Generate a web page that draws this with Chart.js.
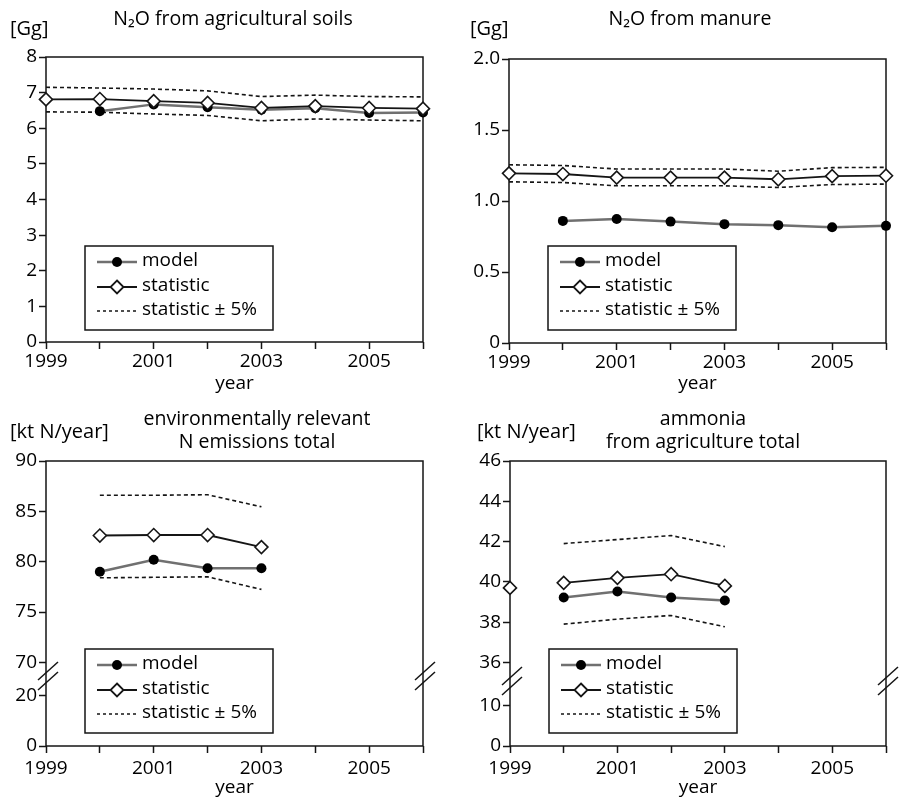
<!DOCTYPE html>
<html>
<head>
<meta charset="utf-8">
<script src="https://cdn.jsdelivr.net/npm/chart.js@4.4.0/dist/chart.umd.min.js"></script>
<style>
  body { margin: 0; background: #fff; }
  #wrap { position: relative; width: 903px; height: 800px; }
  canvas { position: absolute; }
</style>
</head>
<body>
<div id="wrap">
  <canvas id="c1" width="450" height="400" style="left:0;top:0"></canvas>
  <canvas id="c2" width="453" height="400" style="left:450px;top:0"></canvas>
  <canvas id="c3" width="450" height="400" style="left:0;top:400px"></canvas>
  <canvas id="c4" width="453" height="400" style="left:450px;top:400px"></canvas>
</div>
<script>
var years = [1999, 2000, 2001, 2002, 2003, 2004, 2005, 2006];
var yearLabels = ["1999", "", "2001", "", "2003", "", "2005", ""];

// N2O from agricultural soils [Gg]
var soilsModel = [null, 6.48, 6.67, 6.59, 6.52, 6.56, 6.43, 6.44];
var soilsStat = [6.81, 6.82, 6.76, 6.71, 6.57, 6.62, 6.57, 6.55];
var soilsUpper = [7.15, 7.13, 7.1, 7.05, 6.89, 6.93, 6.89, 6.88];
var soilsLower = [6.46, 6.45, 6.4, 6.36, 6.21, 6.26, 6.23, 6.21];
var soilsTicks = [0, 1, 2, 3, 4, 5, 6, 7, 8];
var soilsTickLabels = ["0", "1", "2", "3", "4", "5", "6", "7", "8"];

// N2O from manure [Gg]
var manureModel = [null, 0.86, 0.873, 0.855, 0.837, 0.83, 0.815, 0.825];
var manureStat = [1.195, 1.19, 1.165, 1.165, 1.165, 1.153, 1.175, 1.178];
var manureUpper = [1.255, 1.25, 1.225, 1.225, 1.225, 1.21, 1.235, 1.237];
var manureLower = [1.135, 1.13, 1.107, 1.107, 1.107, 1.095, 1.116, 1.119];
var manureTicks = [0, 0.5, 1, 1.5, 2];
var manureTickLabels = ["0", "0.5", "1.0", "1.5", "2.0"];

// environmentally relevant N emissions total [kt N/year]
var envModel = [null, 79.0, 80.2, 79.35, 79.35, null, null, null];
var envStat = [null, 82.6, 82.65, 82.65, 81.45, null, null, null];
var envUpper = [null, 86.6, 86.6, 86.65, 85.45, null, null, null];
var envLower = [null, 78.4, 78.45, 78.5, 77.25, null, null, null];
var envTicks = [0, 20, 70, 75, 80, 85, 90];
var envTickLabels = ["0", "20", "70", "75", "80", "85", "90"];

// ammonia from agriculture total [kt N/year]
var ammModel = [null, 39.22, 39.52, 39.22, 39.07, null, null, null];
var ammStat = [39.7, 39.95, 40.2, 40.38, 39.8, null, null, null];
var ammUpper = [null, 41.9, 42.1, 42.3, 41.75, null, null, null];
var ammLower = [null, 37.9, 38.15, 38.33, 37.77, null, null, null];
var ammTicks = [0, 10, 36, 38, 40, 42, 44, 46];
var ammTickLabels = ["0", "10", "36", "38", "40", "42", "44", "46"];

var FONT = "'Open Sans', sans-serif";
var MODEL_GREY = "#707070";
var INK = "#151515";

// broken y axis: lower part squeezed, upper part stretched
function mapper(b) {
  if (!b) return function (v) { return v; };
  return function (v) {
    if (v <= b.lowTop) return v / b.lowTop * b.lowSize;
    return b.lowSize + b.gap + (v - b.highBase) * b.highUnit;
  };
}

function points(vals, map) {
  return years.map(function (y, i) {
    var v = vals[i];
    return { x: y, y: (v == null) ? null : map(v) };
  });
}

function drawLegendSymbol(ctx, kind, x, y) {
  ctx.save();
  if (kind === "model") {
    ctx.strokeStyle = MODEL_GREY; ctx.lineWidth = 2.5;
    ctx.beginPath(); ctx.moveTo(x, y); ctx.lineTo(x + 40, y); ctx.stroke();
    ctx.fillStyle = "#000";
    ctx.beginPath(); ctx.arc(x + 20, y, 5, 0, Math.PI * 2); ctx.fill();
  } else if (kind === "stat") {
    ctx.strokeStyle = INK; ctx.lineWidth = 1.8;
    ctx.beginPath(); ctx.moveTo(x, y); ctx.lineTo(x + 40, y); ctx.stroke();
    ctx.fillStyle = "#fff";
    ctx.beginPath();
    ctx.moveTo(x + 20, y - 6.5); ctx.lineTo(x + 26.5, y); ctx.lineTo(x + 20, y + 6.5); ctx.lineTo(x + 13.5, y);
    ctx.closePath(); ctx.fill(); ctx.stroke();
  } else {
    ctx.strokeStyle = INK; ctx.lineWidth = 1.6; ctx.setLineDash([3, 3]);
    ctx.beginPath(); ctx.moveTo(x, y); ctx.lineTo(x + 40, y); ctx.stroke();
  }
  ctx.restore();
}

var deco = {
  id: "deco",
  beforeDatasetsDraw: function (chart) {
    var a = chart.chartArea, ctx = chart.ctx;
    ctx.save();
    ctx.strokeStyle = INK; ctx.lineWidth = 1.5;
    ctx.strokeRect(a.left, a.top, a.right - a.left, a.bottom - a.top);
    ctx.restore();
  },
  afterDraw: function (chart, args, o) {
    var a = chart.chartArea, ctx = chart.ctx;
    ctx.save();
    ctx.fillStyle = "#000";
    ctx.textBaseline = "alphabetic";
    // title
    ctx.font = "19.5px " + FONT;
    ctx.textAlign = "center";
    o.title.forEach(function (t, i) { ctx.fillText(t, o.titleX, o.titleY[i]); });
    // unit
    ctx.font = "20px " + FONT;
    ctx.textAlign = "left";
    ctx.fillText(o.unit, o.unitX, o.unitY);
    // x axis name
    ctx.font = "19px " + FONT;
    ctx.textAlign = "center";
    ctx.fillText("year", (a.left + a.right) / 2, o.yearY);

    // legend box
    var bx = a.left + 39, by = o.legendTop, bw = 188, bh = 84;
    ctx.fillStyle = "#fff";
    ctx.fillRect(bx, by, bw, bh);
    ctx.strokeStyle = INK; ctx.lineWidth = 1.5;
    ctx.strokeRect(bx, by, bw, bh);
    var rows = [["model", "model", 16], ["stat", "statistic", 41], ["band", "statistic ± 5%", 65]];
    ctx.font = "19px " + FONT;
    ctx.textAlign = "left";
    ctx.textBaseline = "middle";
    rows.forEach(function (r) {
      drawLegendSymbol(ctx, r[0], bx + 12, by + r[2]);
      ctx.fillStyle = "#000";
      ctx.fillText(r[1], bx + 57, by + r[2] - 1);
    });

    // axis break marks
    if (o.brk) {
      var yb = chart.scales.y.getPixelForValue(o.brk.lowSize + o.brk.gap / 2) - 3;
      ctx.strokeStyle = INK; ctx.lineWidth = 1.5;
      [a.left, a.right].forEach(function (x) {
        [-5, 5].forEach(function (d) {
          ctx.beginPath();
          ctx.moveTo(x - 8, yb + d + 9);
          ctx.lineTo(x + 12, yb + d - 9);
          ctx.stroke();
        });
      });
    }
    ctx.restore();
  }
};

function makePanel(p) {
  var map = mapper(p.brk);
  var H = 400;
  var statSegment = {};
  if (p.breakAfter) {
    statSegment.borderColor = function (c) {
      return c.p0.parsed.x === p.breakAfter ? "rgba(0,0,0,0)" : INK;
    };
  }
  return new Chart(document.getElementById(p.id), {
    type: "line",
    data: {
      datasets: [
        {
          label: "statistic",
          data: points(p.stat, map),
          borderColor: INK, borderWidth: 1.8,
          pointStyle: "rectRot", pointRadius: 6.5,
          pointBackgroundColor: "#fff", pointBorderColor: INK, pointBorderWidth: 1.6,
          segment: statSegment, spanGaps: false
        },
        {
          label: "model",
          data: points(p.model, map),
          borderColor: MODEL_GREY, borderWidth: 2.5,
          pointStyle: "circle", pointRadius: 5,
          pointBackgroundColor: "#000", pointBorderColor: "#000", pointBorderWidth: 0
        },
        {
          label: "statistic + 5%",
          data: points(p.upper, map),
          borderColor: INK, borderWidth: 1.6, borderDash: [4, 3], pointRadius: 0
        },
        {
          label: "statistic - 5%",
          data: points(p.lower, map),
          borderColor: INK, borderWidth: 1.6, borderDash: [4, 3], pointRadius: 0
        }
      ]
    },
    options: {
      responsive: false,
      animation: false,
      devicePixelRatio: 1,
      clip: false,
      layout: { padding: { left: 0, top: p.area.t, right: p.W - p.area.r, bottom: 0 } },
      plugins: {
        legend: { display: false },
        tooltip: { enabled: false },
        deco: {
          title: p.title, titleX: p.titleX, titleY: p.titleY,
          unit: p.unit, unitX: p.unitX, unitY: p.unitY,
          yearY: p.yearY, legendTop: p.legendTop, brk: p.brk
        }
      },
      scales: {
        x: {
          type: "linear", min: 1999, max: 2006,
          afterBuildTicks: function (s) { s.ticks = years.map(function (v) { return { value: v }; }); },
          afterFit: function (s) { s.height = H - p.area.b; },
          ticks: {
            autoSkip: false, maxRotation: 0, color: "#000", padding: p.xPad,
            font: { family: FONT, size: 19 },
            callback: function (v, i) { return yearLabels[i]; }
          },
          grid: { drawOnChartArea: false, drawTicks: true, tickLength: 7, tickColor: INK, tickWidth: 1.5 },
          border: { display: false }
        },
        y: {
          type: "linear", min: 0, max: map(p.ticks[p.ticks.length - 1]),
          afterBuildTicks: function (s) { s.ticks = p.ticks.map(function (v) { return { value: map(v) }; }); },
          afterFit: function (s) { s.width = p.area.l; },
          ticks: {
            autoSkip: false, color: "#000", padding: 2,
            font: { family: FONT, size: 19 },
            callback: function (v, i) { return p.tickLabels[i]; }
          },
          grid: { drawOnChartArea: false, drawTicks: true, tickLength: 7, tickColor: INK, tickWidth: 1.5 },
          border: { display: false }
        }
      }
    },
    plugins: [deco]
  });
}

makePanel({
  id: "c1", W: 450, area: { l: 46, r: 423, t: 57, b: 342 },
  title: ["N₂O from agricultural soils"], titleX: 233, titleY: [25],
  unit: "[Gg]", unitX: 10, unitY: 35, yearY: 389, legendTop: 246, xPad: 1,
  ticks: soilsTicks, tickLabels: soilsTickLabels,
  model: soilsModel, stat: soilsStat, upper: soilsUpper, lower: soilsLower
});

makePanel({
  id: "c2", W: 453, area: { l: 59, r: 436, t: 59, b: 343 },
  title: ["N₂O from manure"], titleX: 240, titleY: [25],
  unit: "[Gg]", unitX: 20, unitY: 35, yearY: 389, legendTop: 246, xPad: 1,
  ticks: manureTicks, tickLabels: manureTickLabels,
  model: manureModel, stat: manureStat, upper: manureUpper, lower: manureLower
});

makePanel({
  id: "c3", W: 450, area: { l: 46, r: 423, t: 61, b: 346 },
  title: ["environmentally relevant", "N emissions total"], titleX: 257, titleY: [25, 48],
  unit: "[kt N/year]", unitX: 10, unitY: 38, yearY: 393, legendTop: 249, xPad: 4,
  ticks: envTicks, tickLabels: envTickLabels,
  brk: { lowTop: 20, lowSize: 50, gap: 33, highBase: 70, highUnit: 10 },
  model: envModel, stat: envStat, upper: envUpper, lower: envLower
});

makePanel({
  id: "c4", W: 453, area: { l: 60, r: 436, t: 61, b: 346 },
  title: ["ammonia", "from agriculture total"], titleX: 253, titleY: [25, 48],
  unit: "[kt N/year]", unitX: 27, unitY: 38, yearY: 393, legendTop: 249, xPad: 4,
  ticks: ammTicks, tickLabels: ammTickLabels,
  brk: { lowTop: 10, lowSize: 40, gap: 43, highBase: 36, highUnit: 20 },
  breakAfter: 1999,
  model: ammModel, stat: ammStat, upper: ammUpper, lower: ammLower
});
</script>
</body>
</html>
